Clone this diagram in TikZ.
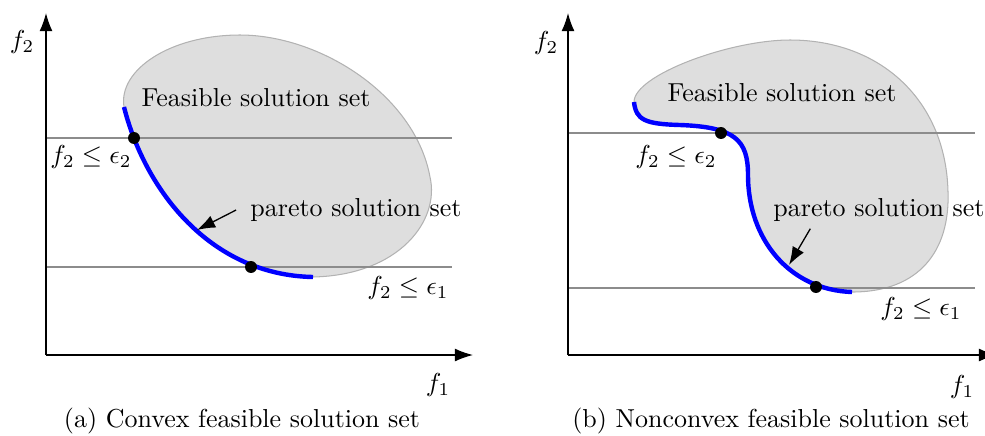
\documentclass[tikz,border=0pt]{standalone}
\usepackage{amsmath,amssymb}
\usetikzlibrary{arrows.meta,calc}
\definecolor{regiongray}{gray}{0.87}
\tikzset{
  axis/.style   = {-{Latex[length=7pt,width=5pt]}, line width=0.5pt},
  lvl/.style    = {line width=0.45pt, black!45},
  region/.style = {fill=regiongray, draw=black!30, line width=0.4pt},
  pareto/.style = {blue, line width=1.7pt},
  dot/.style    = {circle, fill=black, inner sep=0pt, minimum size=4.6pt},
  ar/.style     = {-{Latex[length=7pt,width=5pt]}, line width=0.5pt},
  lbl/.style    = {font=\normalsize}
}

\begin{document}
\begin{tikzpicture}[x=0.385pt, y=-0.385pt]
\useasboundingbox (0,0) rectangle (985,435);

% ---- (a) convex set ----
\path[region] (124,107) .. controls (145,190) and (210,275) .. (313,277)
  .. controls (400,275) and (440,220) .. (430,177)
  .. controls (415,95) and (320,35) .. (240,35)
  .. controls (170,35) and (118,70) .. (124,107) -- cycle;
\draw[lvl] (46,138) -- (452,138);
\draw[lvl] (46,267) -- (452,267);
\coordinate (o1) at (46,355);
\draw[axis] (o1) -- (473,355);
\draw[axis] (o1) -- (46,13);
\draw[pareto] (124,107) .. controls (145,190) and (210,275) .. (313,277);
\node[dot] (d1) at (134,138) {};
\node[dot] (d2) at (251,267) {};
\coordinate (pa) at (197,230);
\node[lbl] (fs1) at (256,98) {Feasible solution set};
\node[lbl] (ps1) at (356,210) {pareto solution set};
\node[lbl] (e2a) at (91,157) {$f_2 \leq \epsilon_2$};
\node[lbl] (e1a) at (408,288) {$f_2 \leq \epsilon_1$};
\node[lbl] (f2a) at (22,42) {$f_2$};
\node[lbl] (f1a) at (438,385) {$f_1$};
\node[lbl] (capa) at (242,421) {(a) Convex feasible solution set};
\draw[ar] ([xshift=-2pt]ps1.west) -- (pa);

% ---- (b) nonconvex set ----
\path[region] (634,102) .. controls (636,120) and (645,124) .. (680,125)
  .. controls (735,127) and (748,140) .. (748,175)
  .. controls (748,240) and (790,290) .. (852,292)
  .. controls (920,292) and (950,250) .. (948,192)
  .. controls (946,100) and (880,40) .. (790,40)
  .. controls (730,40) and (634,75) .. (634,102) -- cycle;
\draw[lvl] (568,133) -- (975,133);
\draw[lvl] (568,288) -- (975,288);
\coordinate (o2) at (568,355);
\draw[axis] (o2) -- (997,355);
\draw[axis] (o2) -- (568,13);
\draw[pareto] (634,102) .. controls (636,120) and (645,124) .. (680,125)
  .. controls (735,127) and (748,140) .. (748,175)
  .. controls (748,240) and (790,290) .. (852,292);
\node[dot] (d3) at (721,133) {};
\node[dot] (d4) at (816,287) {};
\coordinate (pb) at (789,265);
\node[lbl] (fs2) at (782,93) {Feasible solution set};
\node[lbl] (ps2) at (879,210) {pareto solution set};
\node[lbl] (e2b) at (676,157) {$f_2 \leq \epsilon_2$};
\node[lbl] (e1b) at (921,309) {$f_2 \leq \epsilon_1$};
\node[lbl] (f2b) at (546,43) {$f_2$};
\node[lbl] (f1b) at (962,387) {$f_1$};
\node[lbl] (capb) at (771,421) {(b) Nonconvex feasible solution set};
\draw[ar] ($(ps2.south west)+(46,-2)$) -- (pb);
\end{tikzpicture}
\end{document}
